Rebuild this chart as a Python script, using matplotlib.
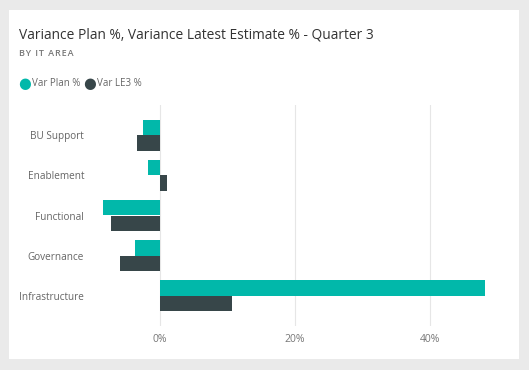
import matplotlib
matplotlib.use("Agg")
import matplotlib.pyplot as plt
from matplotlib.patches import Rectangle
import numpy as np

categories = ["BU Support", "Enablement", "Functional", "Governance", "Infrastructure"]
var_plan = [-2.5, -1.8, -8.4, -3.7, 48.1]
var_le3 = [-3.4, 1.1, -7.3, -6.0, 10.7]
xticks = [0, 20, 40]
xtick_labels = ["0%", "20%", "40%"]
series_names = ["Var Plan %", "Var LE3 %"]
colors = ["#01B8AA", "#374649"]

W, H = 529, 370
fig = plt.figure(figsize=(W / 100, H / 100), dpi=100)
fig.patch.set_facecolor("#EAEAEA")

# white card
card = Rectangle((9 / W, 1 - 359 / H), 510 / W, 349 / H,
                 transform=fig.transFigure, facecolor="white",
                 edgecolor="none", zorder=-10)
fig.patches.append(card)

font = "Open Sans"

ax = fig.add_axes([92.5 / W, 1 - 326 / H, 405 / W, 221 / H])
ax.set_zorder(1)
ax.set_facecolor("none")
y = np.arange(len(categories))
h = 0.383
ax.barh(y - h / 2, var_plan, height=h, color=colors[0], zorder=3)
ax.barh(y + h / 2, var_le3, height=h, color=colors[1], zorder=3)
ax.set_ylim(len(categories) - 0.25, -0.75)
ax.set_xlim(-10, 50)
ax.set_yticks(y)
ax.set_yticklabels(categories, fontsize=7.2, color="#666666", family=font)
ax.set_xticks(xticks)
ax.set_xticklabels(xtick_labels, fontsize=7.5, color="#777777", family=font)
ax.tick_params(length=0)
ax.tick_params(axis="y", pad=6)
ax.tick_params(axis="x", pad=6)
ax.grid(axis="x", color="#E6E6E6", linewidth=0.8, zorder=0)
for s in ax.spines.values():
    s.set_visible(False)

fig.text(19 / W, 1 - 35 / H, "Variance Plan %, Variance Latest Estimate % - Quarter 3",
         fontsize=9.95, color="#333333", family=font, va="center", ha="left")
fig.text(19 / W, 1 - 53 / H, "\u200a".join("BY IT AREA"),
         fontsize=6.5, color="#777777", family=[font, "DejaVu Sans"],
         va="center", ha="left", fontweight="semibold")

# legend
lx = [24, 89]
for i, name in enumerate(series_names):
    fig.text((lx[i] - 6) / W, 1 - 84 / H, "\u25CF", color=colors[i], fontsize=10.5,
             va="center", ha="left", family="DejaVu Sans")
    fig.text((lx[i] + 8) / W, 1 - 84 / H, name, color="#666666", fontsize=7,
             va="center", ha="left", family=font)

fig.savefig("out.png", dpi=100, facecolor=fig.get_facecolor())
